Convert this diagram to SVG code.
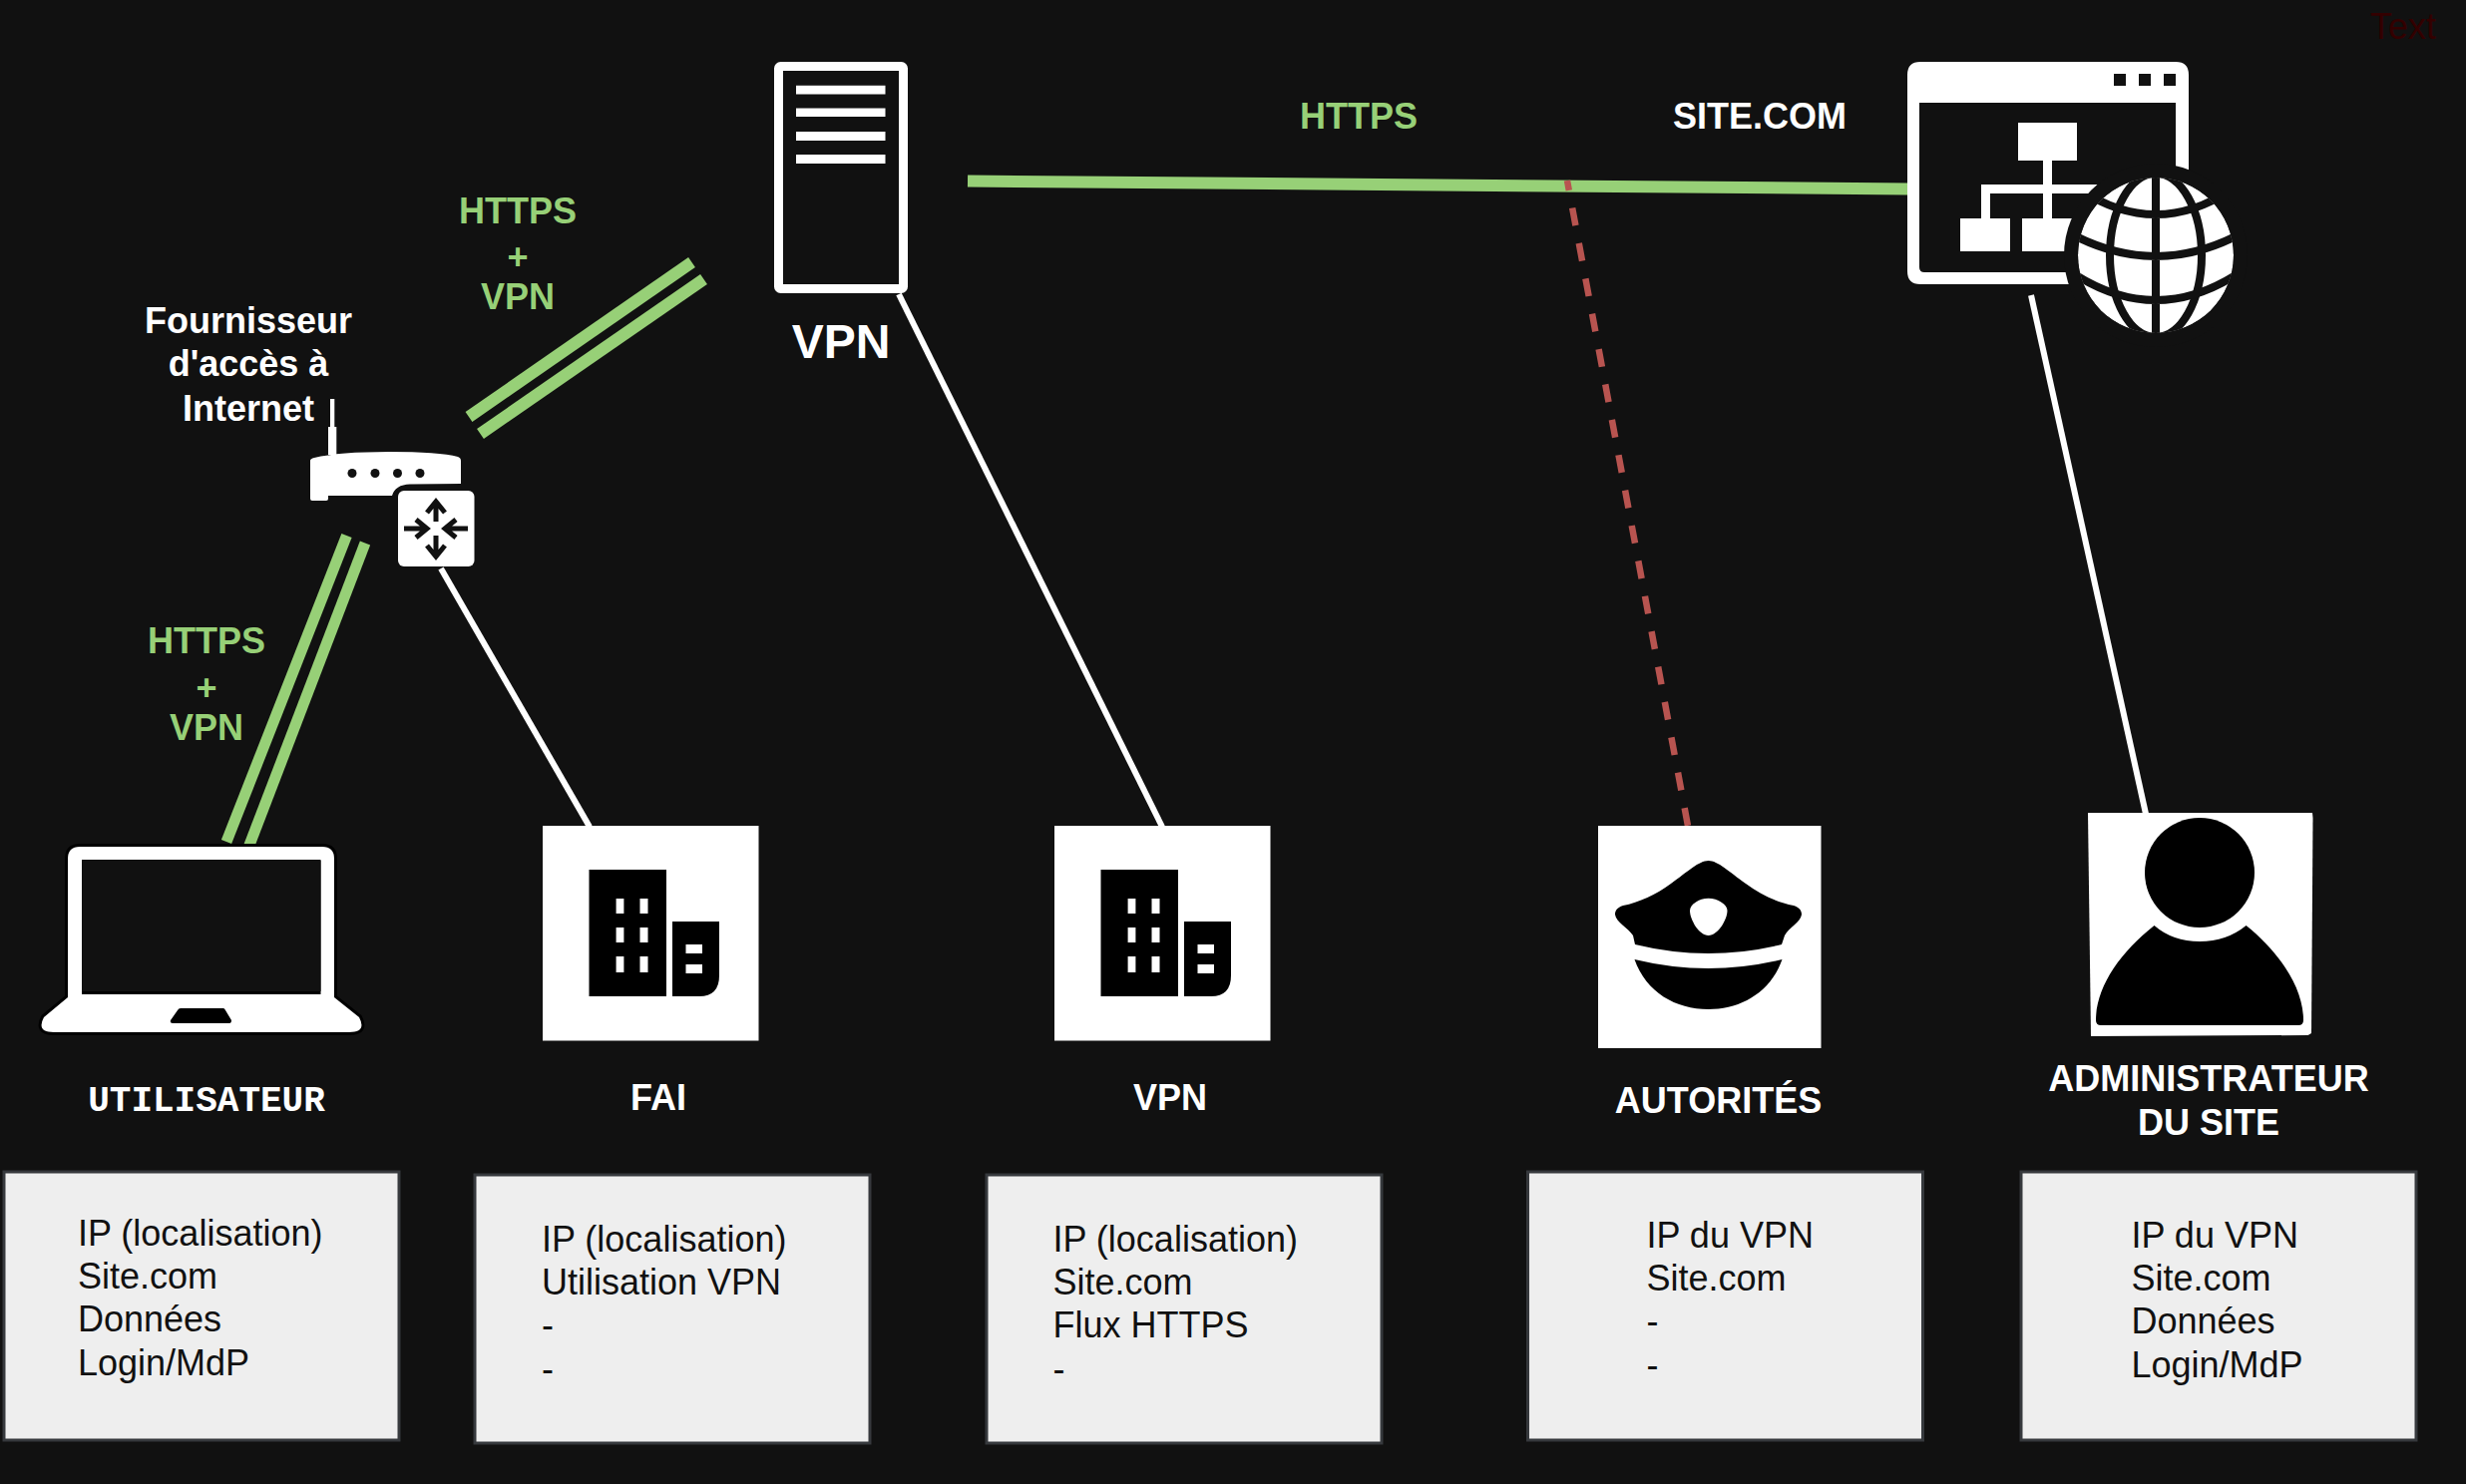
<svg xmlns="http://www.w3.org/2000/svg" width="2472" height="1488" viewBox="0 0 2472 1488">
<style>
text{font-family:"Liberation Sans",Arial,sans-serif;font-size:36px}
.b{font-weight:bold;fill:#fff;text-anchor:middle}
.g{font-weight:bold;fill:#97d077;text-anchor:middle}
.m{font-family:"Liberation Mono","Courier New",monospace;font-weight:bold;fill:#fff;text-anchor:middle}
.t{fill:#111}
.box{fill:#eee;stroke:#36393d;stroke-width:3}
.green{stroke:#97d077;fill:none}
.white{stroke:#fff;stroke-width:6;fill:none}
.w{fill:#fff}
.k{fill:#000}
.d{fill:#111}
.ar{fill:none;stroke:#111;stroke-width:5}
.gl{fill:none;stroke:#111;stroke-width:8}
</style>
<defs>
<clipPath id="globeClip"><circle cx="2161" cy="256" r="78"/></clipPath>
<g id="building">
<path class="w" d="M0 0H216.500V215.500H0Z"/>
<path class="k" d="M46.500 44H124V171H46.500Z"/>
<path class="k" d="M130 96H177V150Q177 171 157 171H130Z"/>
<path class="w" d="M73.600 73H81.400V88H73.600ZM97.500 73H105.500V88H97.500ZM73.600 102H81.400V117H73.600ZM97.500 102H105.500V117H97.500ZM73.600 131H81.400V147H73.600ZM97.500 131H105.500V147H97.500ZM143.500 119H160V128H143.500ZM143.500 139H160V148H143.500Z"/>
</g>
</defs>
<rect width="2472" height="1488" fill="#111"/>
<g id="connectors">
<path class="green" stroke-width="12" d="M970 181.500L1913 189.500"/>
<path class="green" stroke-width="12" d="M470 418L693.500 263"/>
<path class="green" stroke-width="12" d="M481.500 435L705.500 280"/>
<path class="green" stroke-width="11" d="M347.500 537L227 844"/>
<path class="green" stroke-width="11" d="M366 544.500L249 850"/>
<path class="white" d="M442 570L591 829"/>
<path class="white" d="M901 295L1165 829"/>
<path class="white" d="M2036 296L2151 816"/>
<path d="M1571 181L1692 828" fill="none" stroke="#b85450" stroke-width="6.500" stroke-dasharray="18 18" stroke-dashoffset="8"/>
</g>
<g id="server">
<rect x="780.500" y="66.500" width="125" height="223" rx="2" fill="none" stroke="#fff" stroke-width="9"/>
<path class="w" d="M798 85.700H887.500V94.400H798ZM798 108.600H887.500V117H798ZM798 132H887.500V141H798ZM798 155H887.500V164H798Z"/>
<text class="b" x="843" y="358.500" style="font-size:48px">VPN</text>
</g>
<g id="site">
<path class="w" fill-rule="evenodd" d="M1925 62H2181Q2194 62 2194 75V285H1925Q1912 285 1912 272V75Q1912 62 1925 62ZM1924 103V268Q1924 273 1929 273H2181V103ZM2119 74V86H2131V74ZM2144 74V86H2156V74ZM2169 74V86H2181V74Z"/>
<path class="w" d="M2023 123H2082V161H2057V185H2110V194H2057V219H2077V252H2027V219H2048V194H1995V219H2015V252H1965V219H1986V185H2048V161H2023Z"/>
<circle class="d" cx="2161" cy="256" r="92"/>
<g clip-path="url(#globeClip)">
<circle class="w" cx="2161" cy="256" r="78"/>
<ellipse class="gl" cx="2161" cy="256" rx="46" ry="82"/>
<path class="gl" d="M2161 170V345M2085 190Q2161 240 2237 190M2075 234Q2161 280 2247 234M2075 272Q2161 330 2247 272"/>
</g>
</g>
<g id="router">
<path class="w" d="M311 462Q311 460 315 459Q340 453 390 453Q440 453 459 458Q462 459 462 462V485L411 485.500Q396 486 393 497H329V500Q329 502 327 502H313Q311 502 311 500Z"/>
<path class="w" d="M329 456V428H331V400H335.300V428H337.300V456Z"/>
<circle class="d" cx="353" cy="474.500" r="4.500"/><circle class="d" cx="376" cy="474.500" r="4.500"/><circle class="d" cx="398.500" cy="474.500" r="4.500"/><circle class="d" cx="421" cy="474.500" r="4.500"/>
</g>
<g id="switch">
<rect class="w" x="399" y="492" width="76.500" height="76" rx="6"/>
<path class="ar" d="M437 523V504M428 514L437 503L446 514M437 537V557M428 547L437 558L446 547M405 530H427M417 521L428 530L417 539M469 530H447M457 521L446 530L457 539"/>
</g>
<g id="laptop">
<path class="w" stroke="#000" stroke-width="6" paint-order="stroke" d="M80 849H323Q335 849 335 861V1000L360 1020Q368 1035 350 1035H54Q36 1035 44 1020L68 1000V861Q68 849 80 849Z"/>
<path class="k" d="M82 862H321.500V997H82Z"/>
<path class="d" d="M82 863H321.500V994H82Z"/>
<path class="k" d="M181 1011H224Q225 1011 226 1013L232 1023Q232 1026 230 1026H173Q170 1026 171 1023L178 1013Q179 1011 181 1011Z"/>
</g>
<g id="fai"><use href="#building" x="544" y="828"/></g>
<g id="vpn-node"><use href="#building" x="1057" y="828"/></g>
<g id="police">
<rect class="w" x="1602" y="828" width="223.500" height="223"/>
<path class="k" d="M1712.600 863C1722 863 1733 874 1750 886C1765 897 1782 905 1798 908C1804 910 1806 913 1806 917C1805 925 1793 930 1789 938L1786 947Q1712.600 965 1639 947L1637 938C1632 930 1620 925 1619 917C1619 913 1621 910 1627 908C1643 905 1660 897 1675 886C1692 874 1703 863 1712.600 863Z"/>
<path class="k" d="M1638.500 962Q1712.600 980 1786.500 962C1775 995 1745 1012 1712.600 1012C1680 1012 1650 995 1638.500 962Z"/>
<path class="w" d="M1712.600 900.700C1722 900.700 1731.500 907 1731.500 913C1731.500 922 1722 938 1712.600 938C1703 938 1694 922 1694 913C1694 907 1703 900.700 1712.600 900.700Z"/>
</g>
<g id="admin">
<path class="w" d="M2093 815H2318L2318.500 820L2317 1036L2313.600 1038L2096 1039Z"/>
<circle class="k" cx="2205" cy="875" r="55"/>
<path class="k" d="M2159.500 928Q2178 944 2205 944Q2232 944 2251.600 928C2285 955 2309 990 2309 1023Q2309 1028 2304 1028H2106Q2101 1028 2101 1023C2101 990 2125 955 2159.500 928Z"/>
</g>
<g id="labels">
<text class="g" x="519" y="223.500">HTTPS</text>
<text class="g" x="519" y="270">+</text>
<text class="g" x="519" y="309.900">VPN</text>
<text class="g" x="207" y="655">HTTPS</text>
<text class="g" x="207" y="702">+</text>
<text class="g" x="207" y="741.900">VPN</text>
<text class="b" x="249" y="334">Fournisseur</text>
<text class="b" x="249" y="377.200">d'accès à</text>
<text class="b" x="249" y="421.500">Internet</text>
<text class="g" x="1362" y="128.500">HTTPS</text>
<text class="b" x="1764" y="128.500">SITE.COM</text>
<text x="2376" y="39" fill="#330000">Text</text>
<text class="m" x="207" y="1113.500">UTILISATEUR</text>
<text class="b" x="660" y="1112.500">FAI</text>
<text class="b" x="1173" y="1112.500">VPN</text>
<text class="b" x="1722.500" y="1115.500">AUTORITÉS</text>
<text class="b" x="2214" y="1093.500">ADMINISTRATEUR</text>
<text class="b" x="2214" y="1137.500">DU SITE</text>
</g>
<g id="box-utilisateur">
<rect class="box" x="4" y="1175" width="396" height="269"/>
<text class="t" x="78" y="1249">IP (localisation)</text>
<text class="t" x="78" y="1292.200">Site.com</text>
<text class="t" x="78" y="1335.400">Données</text>
<text class="t" x="78" y="1378.600">Login/MdP</text>
</g>
<g id="box-fai">
<rect class="box" x="476" y="1178" width="396" height="269"/>
<text class="t" x="543" y="1255">IP (localisation)</text>
<text class="t" x="543" y="1298.200">Utilisation VPN</text>
<text class="t" x="543" y="1341.400">-</text>
<text class="t" x="543" y="1384.600">-</text>
</g>
<g id="box-vpn">
<rect class="box" x="989" y="1178" width="396" height="269"/>
<text class="t" x="1055.500" y="1255">IP (localisation)</text>
<text class="t" x="1055.500" y="1298.200">Site.com</text>
<text class="t" x="1055.500" y="1341.400">Flux HTTPS</text>
<text class="t" x="1055.500" y="1384.600">-</text>
</g>
<g id="box-autorites">
<rect class="box" x="1531.500" y="1175" width="396" height="269"/>
<text class="t" x="1650.500" y="1251">IP du VPN</text>
<text class="t" x="1650.500" y="1294.200">Site.com</text>
<text class="t" x="1650.500" y="1337.400">-</text>
<text class="t" x="1650.500" y="1380.600">-</text>
</g>
<g id="box-admin">
<rect class="box" x="2026" y="1175" width="396" height="269"/>
<text class="t" x="2136.500" y="1251">IP du VPN</text>
<text class="t" x="2136.500" y="1294.200">Site.com</text>
<text class="t" x="2136.500" y="1337.400">Données</text>
<text class="t" x="2136.500" y="1380.600">Login/MdP</text>
</g>
</svg>
